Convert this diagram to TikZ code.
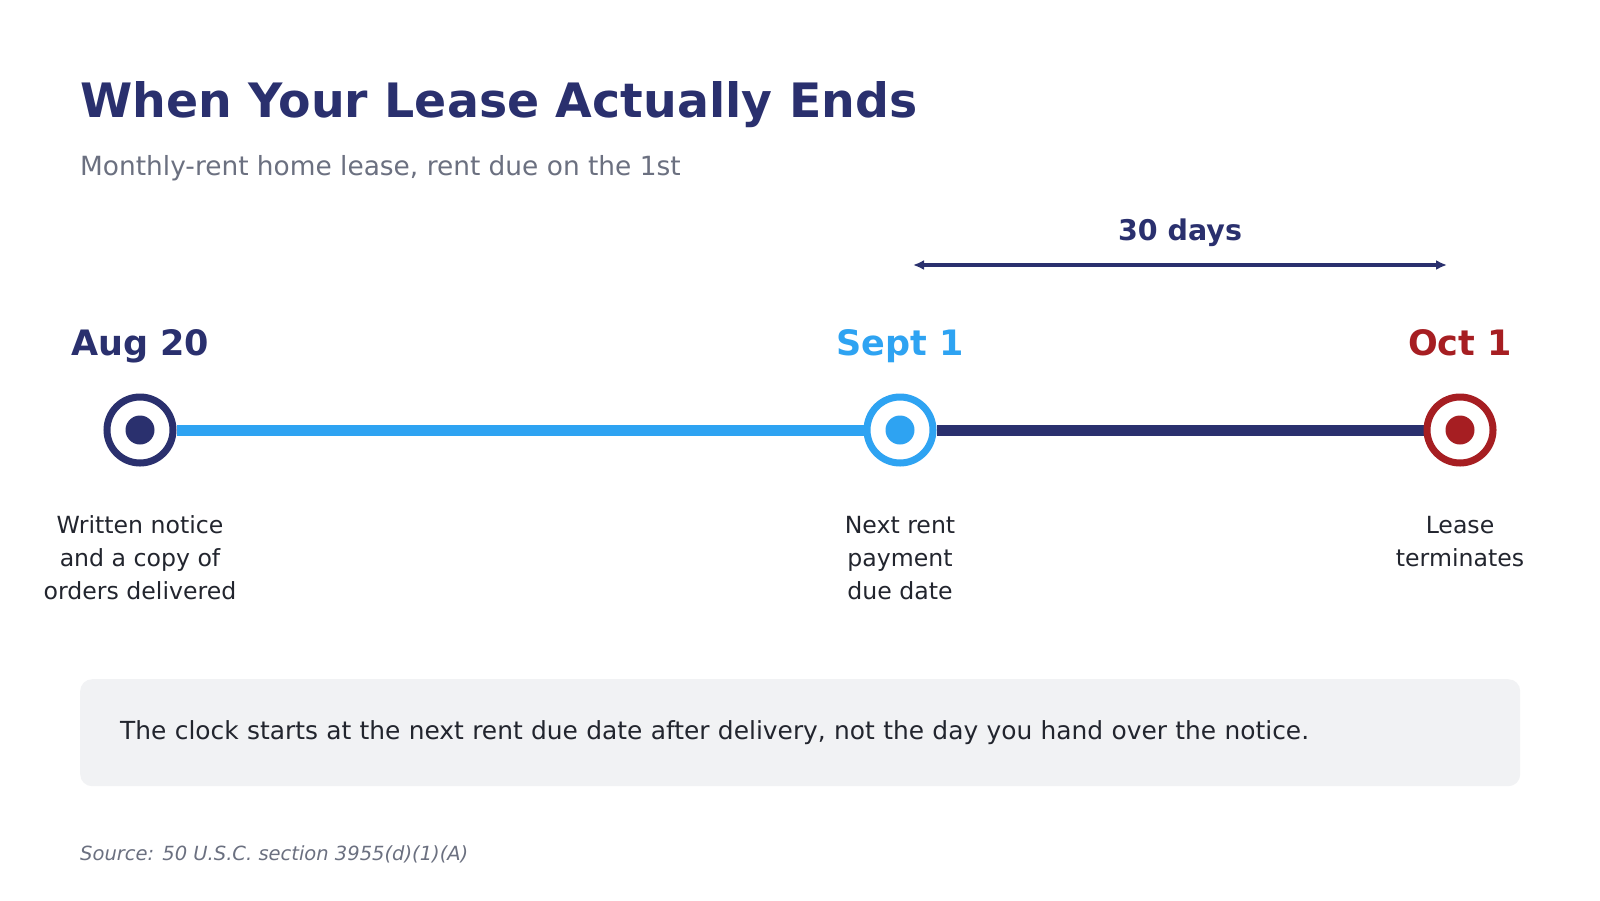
\documentclass[tikz,border=0pt]{standalone}
\usepackage{fontspec}
\setmainfont{DejaVu Sans}[ItalicFont={DejaVu Sans Oblique},BoldFont={DejaVu Sans Bold}]
\usetikzlibrary{arrows.meta}
\definecolor{navy}{HTML}{2A306E}
\definecolor{skyblue}{HTML}{2EA3F2}
\definecolor{darkred}{HTML}{A61E22}
\definecolor{subgray}{HTML}{6B7080}
\definecolor{ink}{HTML}{22252E}
\definecolor{boxfill}{HTML}{F1F2F4}
\pgfdeclarelayer{bg}
\pgfsetlayers{bg,main}
\begin{document}
\begin{tikzpicture}[x=1pt,y=-1pt,
  ring/.style={circle, draw=#1, line width=7pt, fill=white, minimum size=66pt, inner sep=0pt},
  dot/.style={circle, fill=#1, minimum size=29pt, inner sep=0pt},
  datelbl/.style={anchor=base, inner sep=0pt, text=#1, font=\bfseries\fontsize{35}{42}\selectfont},
  desc/.style={anchor=north, inner sep=0pt, align=center, text=ink, font=\fontsize{23.6}{33}\selectfont},
  track/.style={line width=11pt, draw=#1},
  span/.style={draw=navy, line width=3.2pt, {Latex[length=11pt,width=10pt]}-{Latex[length=11pt,width=10pt]}}]
\begin{pgfonlayer}{bg}
\fill[white] (0,0) rectangle (1600,900);
\end{pgfonlayer}
\useasboundingbox (0,0) rectangle (1600,900);

\node[anchor=base west, inner sep=0pt, text=navy, font=\bfseries\fontsize{47.4}{57}\selectfont] (title) at (80,117) {When Your Lease Actually Ends};
\node[anchor=base west, inner sep=0pt, text=subgray, font=\fontsize{26.4}{32}\selectfont] (subtitle) at (80,175) {Monthly-rent home lease, rent due on the 1st};

\node[anchor=base, inner sep=0pt, text=navy, font=\bfseries\fontsize{28.5}{34}\selectfont] (days) at (1180,240) {30 days};
\coordinate (a1) at (913,265);
\coordinate (a2) at (1447,265);
\draw[span] (a1) -- (a2);

\node[ring=navy] (c1) at (140,430) {};
\node[ring=skyblue] (c2) at (900,430) {};
\node[ring=darkred] (c3) at (1460,430) {};
\node[dot=navy] (d1) at (c1) {};
\node[dot=skyblue] (d2) at (c2) {};
\node[dot=darkred] (d3) at (c3) {};
\begin{pgfonlayer}{bg}
\draw[track=skyblue] (c1) -- (c2);
\draw[track=navy] (c2) -- (c3);
\end{pgfonlayer}

\node[datelbl=navy] (l1) at (140,355) {Aug 20};
\node[datelbl=skyblue] (l2) at (900,355) {Sept 1};
\node[datelbl=darkred] (l3) at (1460,355) {Oct 1};

\node[desc] (t1) at (140,510) {\strut Written notice\\and a copy of\\orders delivered};
\node[desc] (t2) at (900,510) {\strut Next rent\\payment\\due date};
\node[desc] (t3) at (1460,510) {\strut Lease\\terminates};

\node[anchor=north west, fill=boxfill, rounded corners=12pt, minimum height=107pt, text width=1360pt, inner xsep=40pt, inner ysep=0pt, align=left, text=ink, font=\fontsize{24.9}{30}\selectfont] (note) at (80,679) {The clock starts at the next rent due date after delivery, not the day you hand over the notice.};

\node[anchor=base west, inner sep=0pt, text=subgray, font=\itshape\fontsize{19.5}{23}\selectfont] (source) at (80,860) {Source: 50 U.S.C. section 3955(d)(1)(A)};
\end{tikzpicture}
\end{document}
